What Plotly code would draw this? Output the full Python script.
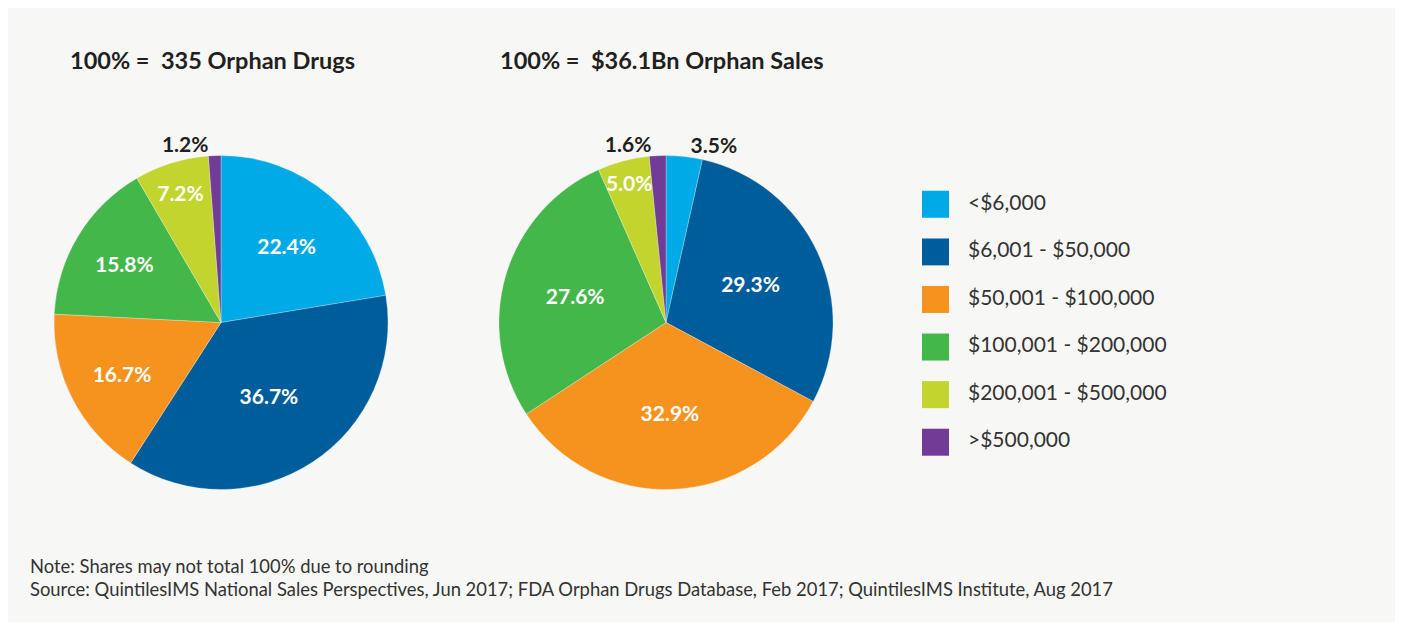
import plotly.graph_objects as go

categories = ["<$6,000", "$6,001 - $50,000", "$50,001 - $100,000",
              "$100,001 - $200,000", "$200,001 - $500,000", ">$500,000"]
colors = ["#00aae7", "#005d9c", "#f6921e", "#43b74a", "#c2d42e", "#723b96"]
drugs_share = [22.4, 36.7, 16.7, 15.8, 7.2, 1.2]
sales_share = [3.5, 29.3, 32.9, 27.6, 5.0, 1.6]
title_drugs = "100% =  335 Orphan Drugs"
title_sales = "100% =  $36.1Bn Orphan Sales"
note_lines = ["Note: Shares may not total 100% due to rounding",
              "Source: QuintilesIMS National Sales Perspectives, Jun 2017; FDA Orphan Drugs Database, Feb 2017; QuintilesIMS Institute, Aug 2017"]

FONT = "Lato"
OFF = 8            # page body margin in the browser
W, H = 1403 - OFF, 624 - OFF
OUTSIDE_LIMIT = 4.0  # slices smaller than this get their label outside


def px_x(p):
    return (p - OFF) / W


def px_y(p):
    return 1 - (p - OFF) / H


def pie(values, cx, cy, r):
    return go.Pie(
        values=values,
        labels=categories,
        text=[f"{v:.1f}%" for v in values],
        textinfo="text",
        textposition=["outside" if v < OUTSIDE_LIMIT else "inside" for v in values],
        insidetextorientation="horizontal",
        insidetextfont=dict(family=FONT, size=21, color="white", weight="bold"),
        outsidetextfont=dict(family=FONT, size=21, color="#231f20", weight="bold"),
        marker=dict(colors=colors, line=dict(width=0.6, color="rgba(255,255,255,0.45)")),
        sort=False,
        direction="clockwise",
        rotation=0,
        showlegend=False,
        hoverinfo="skip",
        domain=dict(x=[px_x(cx - r), px_x(cx + r)], y=[px_y(cy + r), px_y(cy - r)]),
    )


fig = go.Figure()
fig.add_trace(pie(drugs_share, 221, 322.5, 167))
fig.add_trace(pie(sales_share, 666, 322.5, 167))

# custom legend
fig.add_trace(go.Scatter(
    x=[14.5] * len(categories), y=categories, mode="markers",
    marker=dict(symbol="square", size=27, color=colors, line=dict(width=0)),
    hoverinfo="skip", showlegend=False, xaxis="x", yaxis="y",
))
fig.add_trace(go.Scatter(
    x=[47] * len(categories), y=categories, mode="text", text=categories,
    textposition="middle right",
    textfont=dict(family=FONT, size=21, color="#333333"),
    hoverinfo="skip", showlegend=False, xaxis="x", yaxis="y",
))

annotations = [
    dict(text=title_drugs, x=px_x(68), y=px_y(60), xref="paper", yref="paper",
         xanchor="left", yanchor="middle", showarrow=False,
         font=dict(family=FONT, size=23.5, color="#231f20", weight="bold")),
    dict(text=title_sales, x=px_x(498), y=px_y(60), xref="paper", yref="paper",
         xanchor="left", yanchor="middle", showarrow=False,
         font=dict(family=FONT, size=23.5, color="#231f20", weight="bold")),
]
for i, line in enumerate(note_lines):
    annotations.append(dict(text=line, x=px_x(28), y=px_y(566 + 23 * i),
                            xref="paper", yref="paper", xanchor="left", yanchor="middle",
                            showarrow=False,
                            font=dict(family=FONT, size=18.4, color="#333333")))

fig.update_layout(
    width=W, height=H,
    margin=dict(l=0, r=0, t=0, b=0),
    paper_bgcolor="white",
    plot_bgcolor="rgba(0,0,0,0)",
    shapes=[dict(type="rect", xref="paper", yref="paper",
                 x0=0, x1=px_x(1399), y0=px_y(622), y1=1,
                 fillcolor="#f7f7f5", line=dict(width=0), layer="below")],
    annotations=annotations,
    xaxis=dict(domain=[px_x(921), px_x(1221)], range=[0, 300], visible=False, fixedrange=True),
    yaxis=dict(domain=[px_y(466), px_y(180.5)], type="category",
               categoryorder="array", categoryarray=categories,
               range=[5.5, -0.5], visible=False, fixedrange=True),
    uniformtext=dict(minsize=21, mode="show"),
    showlegend=False,
)

fig.write_html("out.html")
